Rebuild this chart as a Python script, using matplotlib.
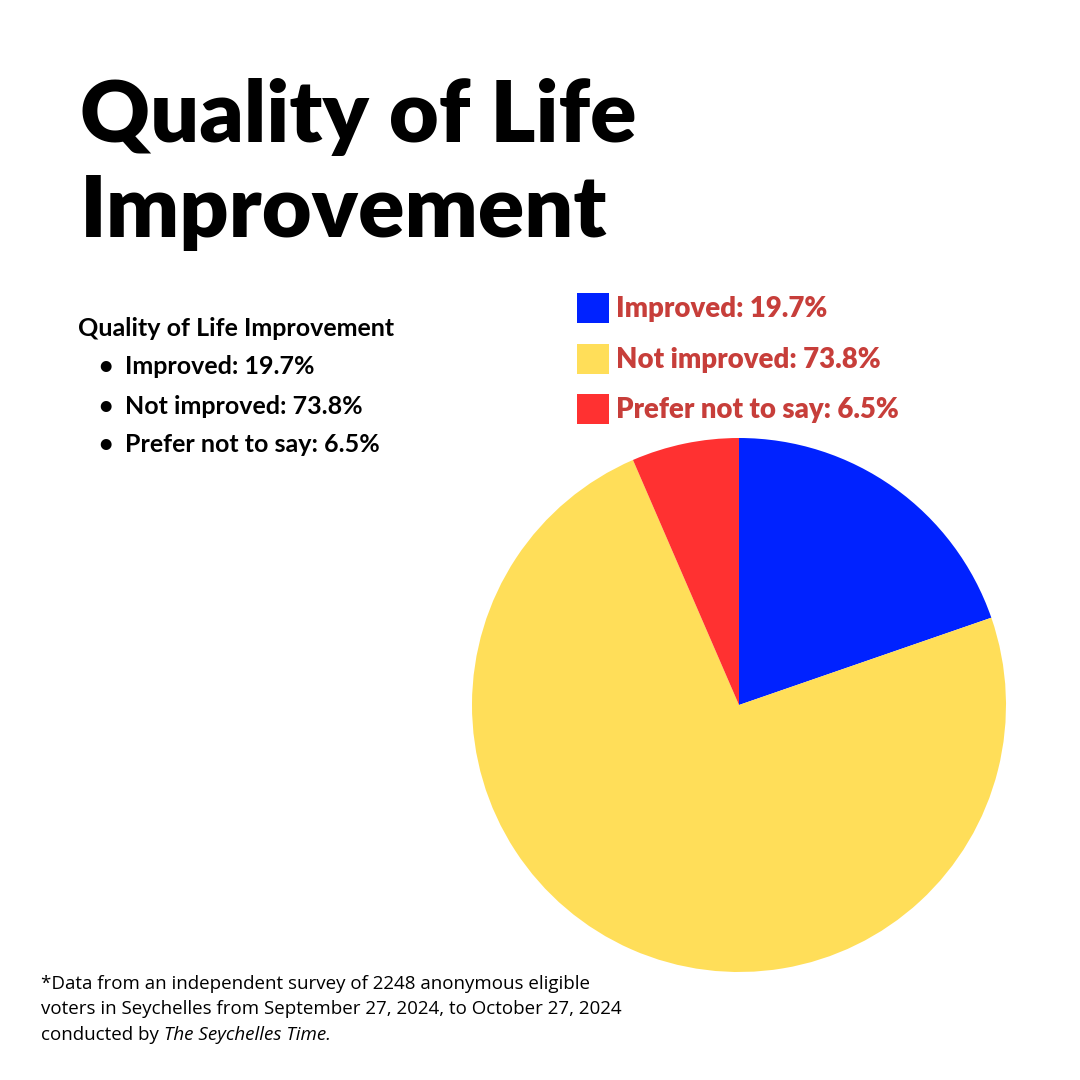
import matplotlib.pyplot as plt

categories = ["Improved", "Not improved", "Prefer not to say"]
shares = [19.7, 73.8, 6.5]
colors = ["#0022FF", "#FFDE59", "#FF3131"]

title = "Quality of Life\nImprovement"
list_heading = "Quality of Life Improvement"
footnote_lines = [
    "*Data from an independent survey of 2248 anonymous eligible",
    "voters in Seychelles from September 27, 2024, to October 27, 2024",
]

fig = plt.figure(figsize=(10.8, 10.8), dpi=100)
fig.patch.set_facecolor("white")

# pie, center ~(739,705) px, radius ~267 px
ax = fig.add_axes([472 / 1080, 1 - 972 / 1080, 534 / 1080, 534 / 1080])
wedges, _ = ax.pie(shares, colors=colors, startangle=90, counterclock=False,
                   radius=1.0, wedgeprops=dict(linewidth=0))
ax.set_aspect("equal")
ax.set_xlim(-1, 1)
ax.set_ylim(-1, 1)
ax.axis("off")

labels = ["{}: {}%".format(c, s) for c, s in zip(categories, shares)]
fig.legend(wedges, labels, loc="upper left",
           bbox_to_anchor=(566 / 1080, 1 - 282 / 1080),
           frameon=False, handlelength=1.15, handleheight=1.3,
           handletextpad=0.25, labelspacing=0.75, borderaxespad=0,
           prop=dict(family="Lato", weight="heavy", size=19.8),
           labelcolor="#C73E3A")

# title
fig.text(80 / 1080, 1 - 78 / 1080, title, ha="left", va="top",
         fontsize=62, fontweight="heavy", family="Lato",
         linespacing=1.27, color="black")

# left list
fig.text(78 / 1080, 1 - 328 / 1080, list_heading, ha="left", va="center",
         fontsize=18, fontweight="bold", family="Lato", color="black")
for i, lab in enumerate(labels):
    y = 1 - (367 + 39 * i) / 1080
    fig.text(98 / 1080, y, "\u2022", ha="left", va="center",
             fontsize=18, fontweight="bold", family="Lato")
    fig.text(125 / 1080, y, lab, ha="left", va="center",
             fontsize=18, fontweight="bold", family="Lato")

# footnote
for i, line in enumerate(footnote_lines):
    fig.text(41 / 1080, 1 - (984 + 25.5 * i) / 1080, line, ha="left",
             va="center", fontsize=13.5, family="Open Sans")
t = fig.text(41 / 1080, 1 - 1035 / 1080, "conducted by ", ha="left",
             va="center", fontsize=13.5, family="Open Sans")
fig.canvas.draw()
bb = t.get_window_extent()
fig.text(bb.x1 / 1080, 1 - 1035 / 1080, "The Seychelles Time.", ha="left",
         va="center", fontsize=13.5, family="Open Sans", style="italic")

fig.savefig("out.png", dpi=100, facecolor="white")
